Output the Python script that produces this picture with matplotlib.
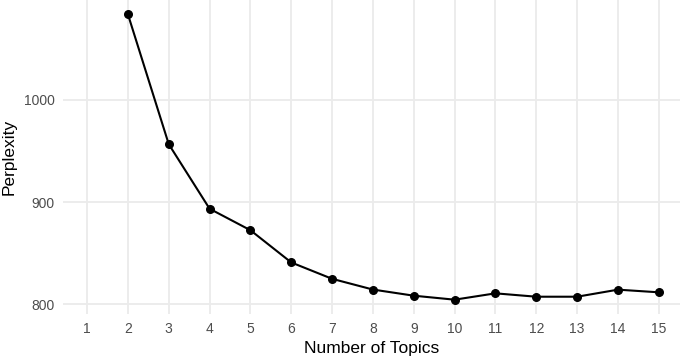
import matplotlib.pyplot as plt

plt.rcParams['font.family'] = ['Liberation Sans', 'DejaVu Sans']

# number of topics and perplexity
topics = [2, 3, 4, 5, 6, 7, 8, 9, 10, 11, 12, 13, 14, 15]
perplexity = [1083.6, 956.6, 893.5, 872.5, 841.0, 825.0, 814.5, 808.5,
              804.6, 810.8, 807.5, 807.5, 814.4, 811.8]
xticks = list(range(1, 16))
yticks = [800, 900, 1000]

fig = plt.figure(figsize=(6.85, 3.57), dpi=100)
ax = fig.add_axes([63 / 685, 43 / 357, 617 / 685, 314 / 357])

ax.plot(topics, perplexity, color='black', linewidth=1.5, zorder=3)
ax.scatter(topics, perplexity, color='black', s=30, zorder=4)

ax.set_xlim(0.41, 15.52)
ax.set_ylim(790.6, 1097.6)
ax.set_xticks(xticks)
ax.set_yticks(yticks)
ax.grid(True, color='#EBEBEB', linewidth=1.3)
ax.set_axisbelow(True)
for s in ax.spines.values():
    s.set_visible(False)
ax.tick_params(length=0, labelsize=10, labelcolor='#4D4D4D', pad=6)

ax.set_xlabel('Number of Topics', fontsize=12.5, labelpad=3)
ax.set_ylabel('Perplexity', fontsize=12.5, labelpad=5)

fig.savefig('out.png', dpi=100)
